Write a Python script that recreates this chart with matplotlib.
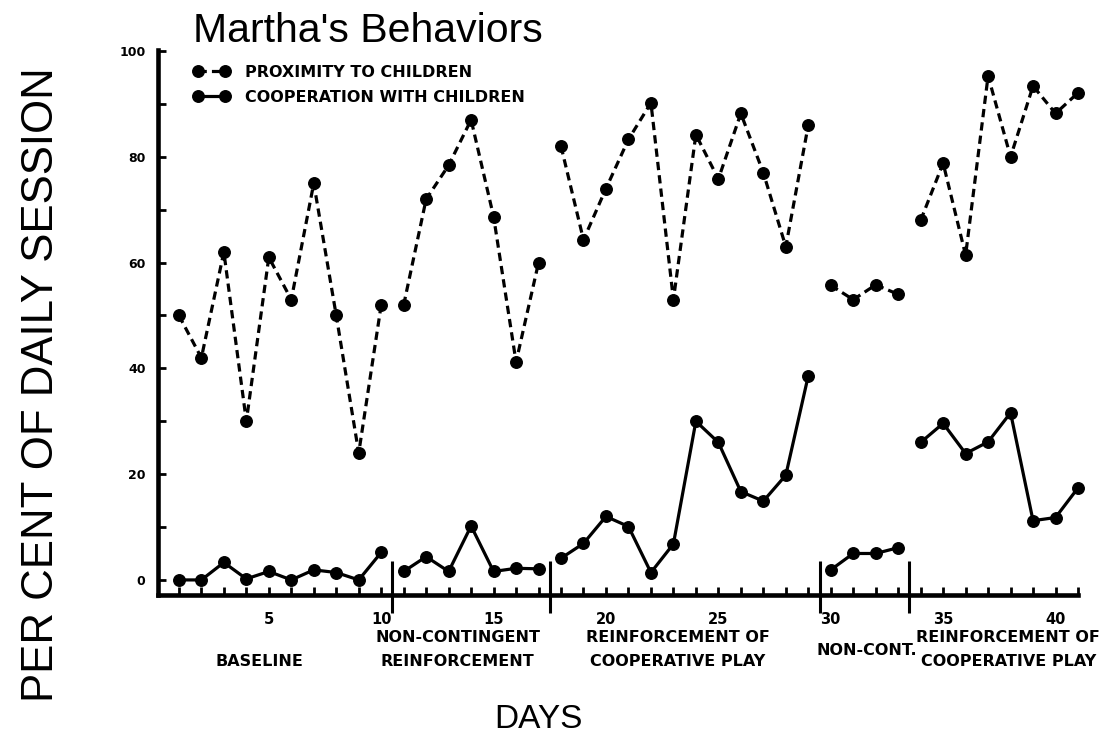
import matplotlib
matplotlib.use('Agg')
import matplotlib.pyplot as plt
import matplotlib.transforms as mtransforms

# ---------------- data ----------------
days = list(range(1, 42))
proximity = [50, 42, 62, 30, 61, 53, 75, 50, 24, 52,
             52, 72, 78.4, 87, 68.7, 41.2, 60,
             82, 64.3, 74, 83.3, 90.2, 53, 84.2, 75.8, 88.2, 77, 63, 86,
             55.7, 53, 55.8, 54,
             68, 78.8, 61.4, 95.3, 80, 93.4, 88.2, 92.1]
cooperation = [0, 0, 3.3, 0.2, 1.6, 0, 1.9, 1.4, 0, 5.2,
               1.6, 4.4, 1.6, 10.2, 1.6, 2.2, 2.1,
               4.1, 6.9, 12, 10.1, 1.4, 6.8, 30, 26, 16.7, 14.9, 19.8, 38.6,
               1.9, 5, 5, 6.1,
               26, 29.6, 23.9, 26.1, 31.6, 11.2, 11.8, 17.4]
phase_ranges = [(1, 10), (11, 17), (18, 29), (30, 33), (34, 41)]
phase_breaks = [10.5, 17.5, 29.5, 33.5]
phase_labels = [["BASELINE"],
                ["NON-CONTINGENT", "REINFORCEMENT"],
                ["REINFORCEMENT OF", "COOPERATIVE PLAY"],
                ["NON-CONT."],
                ["REINFORCEMENT OF", "COOPERATIVE PLAY"]]
phase_label_x = [4.6, 13.4, 23.2, 31.6, 37.9]
x_tick_labels = [5, 10, 15, 20, 25, 30, 35, 40]
y_tick_labels = [0, 20, 40, 60, 80, 100]

W, H = 1101, 736
fig = plt.figure(figsize=(W / 100, H / 100), dpi=100)
ax = fig.add_axes([158 / W, 1 - 595 / H, (1078 - 158) / W, (595 - 50) / H])

lw = 2.3
ms = 8.3
dash = (0, (2.6, 1.6))
prox_line = coop_line = None
for (a, b) in phase_ranges:
    xs = days[a - 1:b]
    p = proximity[a - 1:b]
    c = cooperation[a - 1:b]
    l1, = ax.plot(xs, p, color='black', lw=lw, linestyle=dash, marker='o',
                  ms=ms, clip_on=False, solid_capstyle='butt')
    l2, = ax.plot(xs, c, color='black', lw=lw, linestyle='-', marker='o',
                  ms=ms, clip_on=False)
    if prox_line is None:
        prox_line, coop_line = l1, l2

ax.set_xlim(0.07, 40.96)
ax.set_ylim(-2.85, 100.2)

for side in ['top', 'right']:
    ax.spines[side].set_visible(False)
for side in ['left', 'bottom']:
    ax.spines[side].set_linewidth(3.3)
    ax.spines[side].set_capstyle('projecting')

ax.set_xticks(days)
ax.set_xticklabels([str(d) if d in x_tick_labels else '' for d in days])
ax.set_yticks(list(range(0, 101, 10)))
ax.set_yticklabels([str(v) if v in y_tick_labels else '' for v in range(0, 101, 10)])
ax.tick_params(axis='both', direction='in', length=6, width=2.0, color='black')
ax.tick_params(axis='x', pad=12, labelsize=10.5)
ax.tick_params(axis='y', pad=9, labelsize=9)
for t in ax.get_xticklabels() + ax.get_yticklabels():
    t.set_fontweight('bold')
    t.set_family('DejaVu Sans')

# phase separators
trans = mtransforms.blended_transform_factory(ax.transData, ax.transAxes)
for b in phase_breaks:
    ax.plot([b, b], [0.062, -0.033], transform=trans, color='black', lw=2.2,
            clip_on=False, solid_capstyle='butt')

# phase labels
lab_fs = 11.5
row_y = {1: [-0.122], 2: [-0.078, -0.122]}
for x, lines in zip(phase_label_x, phase_labels):
    ys = row_y[len(lines)]
    if len(lines) == 1 and lines[0] == "NON-CONT.":
        ys = [-0.101]
    for ln, yy in zip(lines, ys):
        ax.text(x, yy, ln, transform=trans, ha='center', va='center',
                fontsize=lab_fs, fontweight='bold', family='DejaVu Sans')

# legend
ax.legend([prox_line, coop_line],
          ["PROXIMITY TO CHILDREN", "COOPERATION WITH CHILDREN"],
          loc='upper left', bbox_to_anchor=(193 / W, 1 - 65 / H),
          bbox_transform=fig.transFigure, frameon=False, numpoints=2,
          handlelength=2.3, handletextpad=0.95, labelspacing=0.62,
          borderpad=0, borderaxespad=0,
          prop={'family': 'DejaVu Sans', 'weight': 'bold', 'size': lab_fs})

# titles
fig.text(193 / W, 1 - 31 / H, "Martha's Behaviors", ha='left', va='center',
         fontsize=29.5, family='Liberation Sans')
fig.text(42 / W, 1 - 385 / H, "PER CENT OF DAILY SESSION", rotation=90,
         ha='center', va='center', fontsize=31.5, family='Liberation Sans')
fig.text(538 / W, 1 - 720 / H, "DAYS", ha='center', va='center',
         fontsize=24, family='Liberation Sans')

fig.savefig('out.png', dpi=100)
